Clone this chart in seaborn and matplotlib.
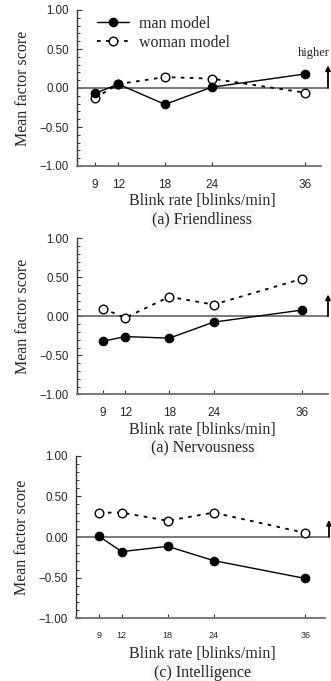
import matplotlib
matplotlib.use("Agg")
import matplotlib.pyplot as plt
import seaborn as sns
import numpy as np
import pandas as pd
from matplotlib.ticker import FixedLocator, MultipleLocator, FuncFormatter

sns.set_style("white")
plt.rcParams['font.family'] = ['Liberation Sans', 'DejaVu Sans']

blink_rates = [9, 12, 18, 24, 36]
man_friend = [-0.07, 0.05, -0.21, 0.01, 0.18]
woman_friend = [-0.13, 0.05, 0.14, 0.12, -0.06]
man_nerv = [-0.32, -0.26, -0.28, -0.075, 0.08]
woman_nerv = [0.10, -0.02, 0.25, 0.15, 0.48]
man_intel = [0.01, -0.18, -0.115, -0.29, -0.51]
woman_intel = [0.30, 0.30, 0.20, 0.30, 0.05]
titles = ["(a) Friendliness", "(a) Nervousness", "(c) Intelligence"]
series_labels = ["man model", "woman model"]
y_ticks = [-1.0, -0.5, 0.0, 0.5, 1.0]
arrow_tops = [0.29, 0.28, 0.21]

W, H = 331, 681
fig = plt.figure(figsize=(W / 100, H / 100), dpi=100)

panels = [
    dict(left=77, right=328, top=10, bottom=166, xlim=(6.69, 38.96), spine_end=38.06, xfs=8.5,
         title_y=-0.37, xlpad=2, man=man_friend, woman=woman_friend),
    dict(left=77, right=328, top=238.3, bottom=394.3, xlim=(5.47, 39.53), spine_end=39.53, xfs=8.5,
         title_y=-0.37, xlpad=2, man=man_nerv, woman=woman_nerv),
    dict(left=76.3, right=329, top=455.7, bottom=618.3, xlim=(6.05, 39.1), spine_end=38.6, xfs=6.5,
         title_y=-0.36, xlpad=4.5, man=man_intel, woman=woman_intel),
]

serif = ['Liberation Serif', 'DejaVu Serif']
gray = '#6e6e6e'

for i, p in enumerate(panels):
    ax = fig.add_axes([p['left'] / W, 1 - p['bottom'] / H,
                       (p['right'] - p['left']) / W, (p['bottom'] - p['top']) / H])
    ax.set_facecolor('none')
    df = pd.DataFrame({'rate': blink_rates, 'man': p['man'], 'woman': p['woman']})
    ax.axhline(0, color=gray, lw=1.3, zorder=1)
    sns.lineplot(data=df, x='rate', y='woman', ax=ax, color='black', lw=1.3,
                 linestyle=(0, (2.0, 3.0)), marker='o', markersize=6.2,
                 markerfacecolor='white', markeredgecolor='black', markeredgewidth=1.0,
                 label=series_labels[1], zorder=3)
    sns.lineplot(data=df, x='rate', y='man', ax=ax, color='black', lw=1.0,
                 marker='o', markersize=6.2, markerfacecolor='black',
                 markeredgecolor='black', label=series_labels[0], zorder=4)
    ax.set_xlim(*p['xlim'])
    ax.set_ylim(-1.0, 1.0)
    for s in ['top', 'right']:
        ax.spines[s].set_visible(False)
    ax.spines['left'].set_color('#333333')
    ax.spines['left'].set_linewidth(1.0)
    ax.spines['bottom'].set_color(gray)
    ax.spines['bottom'].set_linewidth(1.3)
    ax.spines['bottom'].set_bounds(p['xlim'][0], p['spine_end'])
    ax.xaxis.set_major_locator(FixedLocator(blink_rates))
    ax.set_xticklabels([str(v) for v in blink_rates])
    ax.yaxis.set_major_locator(FixedLocator(y_ticks))
    ax.yaxis.set_minor_locator(MultipleLocator(0.1))
    ax.yaxis.set_major_formatter(FuncFormatter(lambda v, pos: f"{v:.2f}".replace('-', '\u2212')))
    ax.tick_params(axis='x', direction='in', length=3, width=0.8, color='#333333',
                   labelsize=p['xfs'], pad=9, bottom=True)
    ax.tick_params(axis='y', which='major', direction='in', length=3.5, width=0.8,
                   color='#333333', labelsize=8.3, pad=6, left=True)
    ax.tick_params(axis='y', which='minor', direction='in', length=2.5, width=0.7,
                   color='#333333', left=True)
    ax.set_xlabel("Blink rate [blinks/min]", family=serif, fontsize=11.5, labelpad=p['xlpad'])
    ax.set_ylabel("Mean factor score", family=serif, fontsize=11.5, labelpad=6)
    ax.set_title(titles[i], family=serif, fontsize=11.5, y=p['title_y'], pad=0,
                 bbox=dict(facecolor='#f6f6f6', edgecolor='none', pad=2))
    ax.annotate("", xy=(p['xlim'][1], arrow_tops[i]), xytext=(p['xlim'][1], 0.0),
                arrowprops=dict(arrowstyle='-|>', color='black', lw=1.3,
                                mutation_scale=7, shrinkA=0, shrinkB=0),
                annotation_clip=False)
    if i == 0:
        ax.text(37.1, 0.45, "higher", family=serif, fontsize=9, ha='center', va='center')
        handles, labels = ax.get_legend_handles_labels()
        order = [labels.index(series_labels[0]), labels.index(series_labels[1])]
        ax.legend([handles[k] for k in order], [labels[k] for k in order],
                  loc='upper left', bbox_to_anchor=(0.055, 1.005), frameon=False,
                  prop=dict(family=serif, size=11.5), handlelength=2.0,
                  handletextpad=0.6, labelspacing=0.2, borderaxespad=0)
    else:
        ax.get_legend().remove()

fig.savefig("out.png", dpi=100)
